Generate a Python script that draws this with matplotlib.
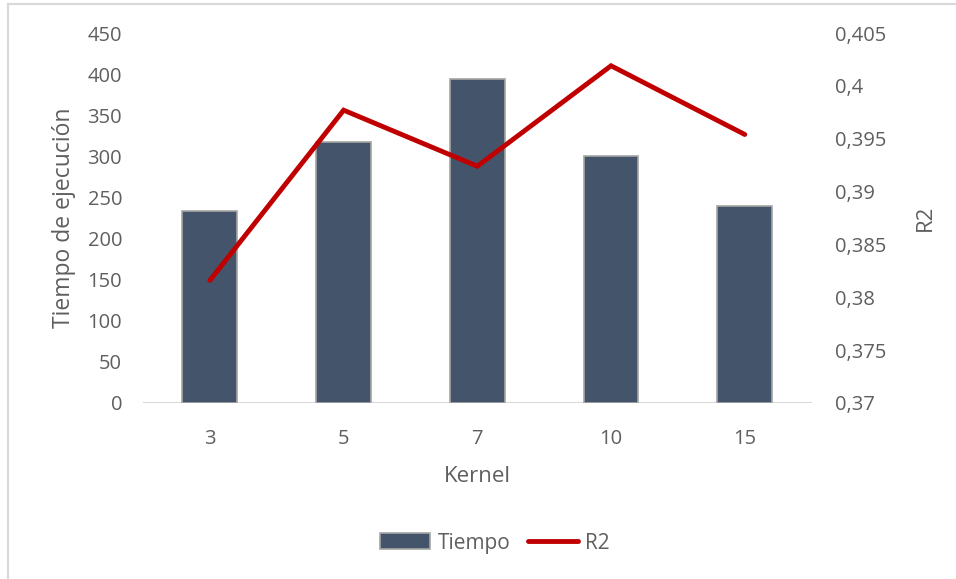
import matplotlib
matplotlib.use("Agg")
import matplotlib.pyplot as plt
from matplotlib.lines import Line2D
from matplotlib.patches import Patch

kernels = ["3", "5", "7", "10", "15"]
tiempo = [233, 317, 394, 300, 240]
r2 = [0.3816, 0.3977, 0.3924, 0.4019, 0.3954]

left_ticks = [0, 50, 100, 150, 200, 250, 300, 350, 400, 450]
right_ticks = [0.37, 0.375, 0.38, 0.385, 0.39, 0.395, 0.40, 0.405]
right_labels = ["0,37", "0,375", "0,38", "0,385", "0,39", "0,395", "0,4", "0,405"]

bar_color = "#44546A"
line_color = "#C00000"
text_color = "#5F5F5F"
font = "Open Sans"

plt.rcParams["font.family"] = [font, "DejaVu Sans"]

fig = plt.figure(figsize=(9.56, 5.79), dpi=100)
fig.patch.set_facecolor("white")

# light frame around the chart area
fig.add_artist(Line2D([0.0085, 1.0], [0.993, 0.993], transform=fig.transFigure,
                      color="#D9D9D9", lw=1.5))
fig.add_artist(Line2D([0.0085, 0.0085], [0.0, 0.993], transform=fig.transFigure,
                      color="#D9D9D9", lw=1.5))

ax = fig.add_axes([0.1496, 0.304, 0.6994, 0.639])
x = range(len(kernels))
ax.bar(x, tiempo, width=0.41, color=bar_color, edgecolor="#A6A6A6", linewidth=1.2,
       zorder=2)
ax.set_xlim(-0.5, len(kernels) - 0.5)
ax.set_ylim(0, 450)
ax.set_yticks(left_ticks)
ax.set_yticklabels([str(v) for v in left_ticks])
ax.set_xticks(list(x))
ax.set_xticklabels(kernels)
for s in ax.spines.values():
    s.set_visible(False)
ax.axhline(0, color="#D9D9D9", lw=1.5, zorder=1)
ax.tick_params(axis="both", length=0, labelsize=14.5, colors=text_color)
ax.tick_params(axis="y", pad=15)
ax.tick_params(axis="x", pad=19)
ax.set_ylabel("Tiempo de ejecución", fontsize=16.5, color=text_color, labelpad=8)
ax.set_xlabel("Kernel", fontsize=16, color=text_color, labelpad=12)

ax2 = ax.twinx()
ax2.plot(list(x), r2, color=line_color, lw=3.5, solid_capstyle="round",
         solid_joinstyle="miter", zorder=3)
ax2.set_ylim(0.37, 0.405)
ax2.set_yticks(right_ticks)
ax2.set_yticklabels(right_labels)
for s in ax2.spines.values():
    s.set_visible(False)
ax2.tick_params(axis="y", length=0, labelsize=14.5, colors=text_color, pad=17)
ax2.set_ylabel("R2", fontsize=16, color=text_color, rotation=90, labelpad=20)

handles = [Patch(facecolor=bar_color, edgecolor="#A6A6A6", linewidth=1.2),
           Line2D([0], [0], color=line_color, lw=3.5, solid_capstyle="round")]
leg = fig.legend(handles, ["Tiempo", "R2"], loc="center", bbox_to_anchor=(0.518, 0.062),
                 ncol=2, frameon=False, fontsize=15, handlelength=2.4,
                 handletextpad=0.35, columnspacing=0.85, handleheight=0.8)
for t in leg.get_texts():
    t.set_color(text_color)

fig.savefig("out.png", dpi=100, facecolor="white")
